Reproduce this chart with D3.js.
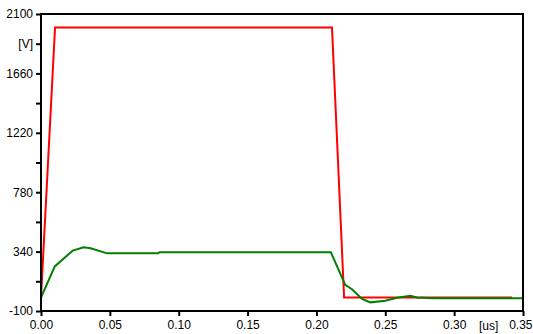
<!DOCTYPE html>
<html>
<head>
<meta charset="utf-8">
<script src="https://cdn.jsdelivr.net/npm/d3@7"></script>
<style>
  html, body { margin: 0; padding: 0; background: #fff; }
  svg { display: block; }
  text { font-family: "Liberation Sans", Arial, sans-serif; font-size: 12px; fill: #000; }
</style>
</head>
<body>
<svg id="chart" width="533" height="334"></svg>
<script>
// Time axis [us]
const xTicks = [0, 0.05, 0.10, 0.15, 0.20, 0.25, 0.30, 0.35];
const xUnitAt = 0.325;
const xUnitLabel = "[us]";

// Voltage axis [V]
const yMajorTicks = [-100, 340, 780, 1220, 1660, 2100];
const yMinorTicks = [120, 560, 1000, 1440, 1880];
const yUnitAt = 1880;
const yUnitLabel = "[V]";

// Applied voltage pulse (red)
const pulseT = [0, 0.0102, 0.2113, 0.2201, 0.342];
const pulseV = [0, 2000, 2000, 0, 0];

// Response voltage (green)
const respT = [0, 0.010, 0.023, 0.031, 0.036, 0.048, 0.085, 0.086, 0.2105, 0.2209, 0.2258, 0.2331, 0.2391, 0.250, 0.2585, 0.2682, 0.273, 0.285, 0.35];
const respV = [0, 230, 347, 372, 365, 327, 327, 335, 335, 93, 61, -11, -36, -24, -2, 13, 0, -6, -6];

const svg = d3.select("#chart");
const W = 533;
const L = 41, T = 14, R = 523, B = 311;

const x = d3.scaleLinear().domain([0, 0.35]).range([L, R]);
const y = d3.scaleLinear().domain([-100, 2100]).range([B, T]);

svg.append("defs").append("clipPath").attr("id", "plot")
  .append("rect").attr("x", L).attr("y", T).attr("width", R - L).attr("height", B - T);

const line = d3.line().x(d => x(d[0])).y(d => y(d[1]));
const pulse = pulseT.map((t, i) => [t, pulseV[i]]);
const resp = respT.map((t, i) => [t, respV[i]]);

const g = svg.append("g").attr("clip-path", "url(#plot)");
g.append("path").datum(pulse).attr("d", line)
  .attr("fill", "none").attr("stroke", "#ff0000").attr("stroke-width", 2);
g.append("path").datum(resp).attr("d", line)
  .attr("fill", "none").attr("stroke", "#008000").attr("stroke-width", 2);

// Frame
svg.append("rect").attr("x", L).attr("y", T).attr("width", R - L).attr("height", B - T)
  .attr("fill", "none").attr("stroke", "#000").attr("stroke-width", 2);

// Y axis
const yTicks = yMajorTicks.concat(yMinorTicks).sort((a, b) => a - b);
const yAxis = d3.axisLeft(y).tickValues(yTicks).tickSizeOuter(0).tickSize(5).tickPadding(3)
  .tickFormat(d => yMajorTicks.includes(d) ? String(d) : (d === yUnitAt ? yUnitLabel : ""));
const ya = svg.append("g").attr("transform", `translate(${L},0)`).call(yAxis);
ya.select(".domain").remove();
ya.selectAll(".tick line").attr("stroke", "#000").attr("stroke-width", 2);
ya.selectAll("text").attr("font-size", 12).attr("font-family", "Liberation Sans, Arial, sans-serif").attr("fill", "#000");

// X axis
const xAxis = d3.axisBottom(x).tickValues(xTicks).tickSizeOuter(0).tickSize(5).tickPadding(4)
  .tickFormat(d => d.toFixed(2));
const xa = svg.append("g").attr("transform", `translate(0,${B})`).call(xAxis);
xa.select(".domain").remove();
xa.selectAll(".tick line").attr("stroke", "#000").attr("stroke-width", 2);
xa.selectAll("text").attr("font-size", 12).attr("font-family", "Liberation Sans, Arial, sans-serif").attr("fill", "#000");

// Keep the last tick label inside the page edge
xa.selectAll(".tick").filter(d => d === 0.35).select("text")
  .attr("text-anchor", "end").attr("x", W - R - 1);

svg.append("text").attr("x", x(xUnitAt)).attr("y", 329.5)
  .attr("text-anchor", "middle").text(xUnitLabel);
</script>
</body>
</html>
